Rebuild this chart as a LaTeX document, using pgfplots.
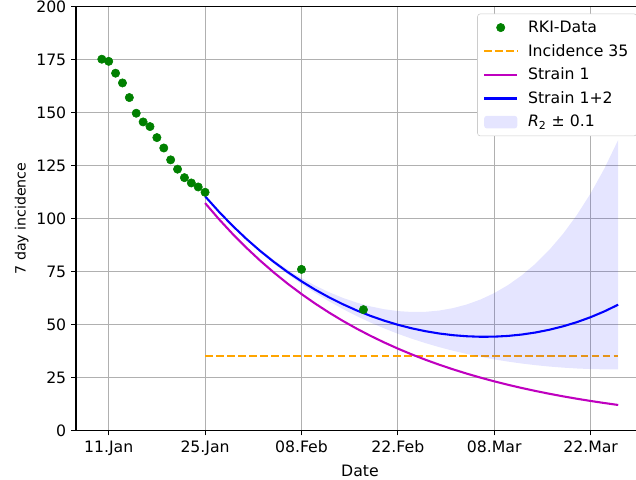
\documentclass[border=0pt]{standalone}
\usepackage{pgfplots}
\pgfplotsset{compat=1.18}
\usepackage{fontspec}
\setmainfont{DejaVu Sans}

\definecolor{rkigreen}{RGB}{0,128,0}
\definecolor{incorange}{RGB}{255,165,0}
\definecolor{strmag}{RGB}{191,0,191}
\definecolor{strblue}{RGB}{0,0,255}
\definecolor{gridgray}{RGB}{176,176,176}

% day index: 0 = 1.Jan
\pgfplotstableread{
d v
9 175.2
10 174.2
11 168.6
12 164.0
13 157.1
14 149.7
15 145.6
16 143.4
17 138.2
18 133.3
19 127.7
20 123.3
21 119.3
22 116.8
23 114.9
24 112.4
38 76.0
47 57.0
}\rkidata

\pgfplotstableread{
d s1 s12 up lo
24 107.3 110.50 110.50 110.50
26 99.75 103.25 103.37 103.13
28 92.73 96.56 96.82 96.31
30 86.20 90.39 90.82 89.99
32 80.13 84.71 85.35 84.13
34 74.49 79.50 80.39 78.72
36 69.24 74.72 75.90 73.72
38 64.37 70.37 71.90 69.11
40 59.84 66.40 68.35 64.85
42 55.63 62.81 65.24 60.93
44 51.71 59.57 62.57 57.31
46 48.07 56.66 60.34 53.99
48 44.68 54.08 58.55 50.95
50 41.54 51.82 57.21 48.17
52 38.61 49.86 56.32 45.62
54 35.89 48.20 55.90 43.30
56 33.37 46.83 55.98 41.21
58 31.02 45.75 56.57 39.31
60 28.84 44.95 57.71 37.61
62 26.81 44.44 59.43 36.11
64 24.92 44.20 61.78 34.73
66 23.16 44.25 64.81 33.53
68 21.53 44.60 68.60 32.48
70 20.02 45.26 73.20 31.57
72 18.61 46.22 78.71 30.80
74 17.30 47.51 85.21 30.15
76 16.08 49.13 92.81 29.63
78 14.95 51.10 101.66 29.23
80 13.90 53.45 111.88 28.96
82 12.92 56.19 123.63 28.82
84 12.01 59.34 137.11 28.78
}\model

\begin{document}
\begin{tikzpicture}
\begin{axis}[
    at={(0,0)}, anchor=south west,
    scale only axis, width=408.96pt, height=305.1pt,
    xmin=5.25, xmax=87.75,
    ymin=0, ymax=200,
    xtick={10,24,38,52,66,80},
    xticklabels={11.Jan,25.Jan,08.Feb,22.Feb,08.Mar,22.Mar},
    ytick={0,25,...,200},
    tick pos=left, tick align=outside,
    major tick length=3.5pt,
    tick style={black, line width=0.8pt},
    axis line style={line width=0.8pt},
    grid=major, grid style={gridgray, line width=0.8pt},
    ticklabel style={font=\fontsize{11.3}{13.5}\selectfont},
    xticklabel style={yshift=-0.5pt},
    /pgf/number format/assume math mode=true,
    xlabel=Date, ylabel=7 day incidence,
    xlabel style={font=\fontsize{11.3}{13.5}\selectfont,
        at={(axis description cs:0.5,-0.096)}, anchor=center},
    ylabel style={font=\fontsize{10.2}{12}\selectfont,
        at={(axis description cs:-0.0956,0.5)}, anchor=center},
    legend cell align=left,
    legend style={at={(rel axis cs:1,1)}, anchor=north east,
        xshift=-5pt, yshift=-5pt,
        draw=black!20, rounded corners=2pt, fill=white,
        font=\fontsize{11.3}{13.5}\selectfont,
        row sep=3pt, inner xsep=4pt, inner ysep=3pt,
        /tikz/every odd column/.append style={column sep=5pt}},
    legend image code/.code={%
        \draw[mark repeat=2,mark phase=2,#1]
        plot coordinates {(0cm,0cm) (0.42cm,0cm) (0.84cm,0cm)};},
]
\addplot[only marks, mark=*, mark size=3pt, draw=rkigreen, fill=rkigreen]
    table[x=d, y=v] {\rkidata};
\addlegendentry{RKI-Data}

\addplot[incorange, line width=1.5pt, dash pattern=on 5.55pt off 2.4pt]
    coordinates {(24,35) (84,35)};
\addlegendentry{Incidence 35}

\addplot[strmag, line width=1.5pt] table[x=d, y=s1] {\model};
\addlegendentry{Strain 1}

\addplot[strblue, line width=1.5pt] table[x=d, y=s12] {\model};
\addlegendentry{Strain 1+2}

% band: upper edge forward, lower edge back
\addplot[draw=none, fill=strblue, fill opacity=0.1,
    legend image code/.code={%
        \fill[strblue, fill opacity=0.1] (0cm,-0.16cm) rectangle (0.84cm,0.16cm);}]
    coordinates {
    (24,110.50) (26,103.37) (28,96.82) (30,90.82) (32,85.35) (34,80.39)
    (36,75.90) (38,71.90) (40,68.35) (42,65.24) (44,62.57) (46,60.34)
    (48,58.55) (50,57.21) (52,56.32) (54,55.90) (56,55.98) (58,56.57)
    (60,57.71) (62,59.43) (64,61.78) (66,64.81) (68,68.60) (70,73.20)
    (72,78.71) (74,85.21) (76,92.81) (78,101.66) (80,111.88) (82,123.63)
    (84,137.11)
    (84,28.78) (82,28.82) (80,28.96) (78,29.23) (76,29.63) (74,30.15)
    (72,30.80) (70,31.57) (68,32.48) (66,33.53) (64,34.73) (62,36.11)
    (60,37.61) (58,39.31) (56,41.21) (54,43.30) (52,45.62) (50,48.17)
    (48,50.95) (46,53.99) (44,57.31) (42,60.93) (40,64.85) (38,69.11)
    (36,73.72) (34,78.72) (32,84.13) (30,89.99) (28,96.31) (26,103.13)
    (24,110.50)
    };
\addlegendentry{{\itshape R}\textsubscript{2} ± 0.1}
\end{axis}
\pgfresetboundingbox
\path[use as bounding box] (-54.72pt,-35.64pt) rectangle (403.2pt,309.9pt);
\end{tikzpicture}
\end{document}
